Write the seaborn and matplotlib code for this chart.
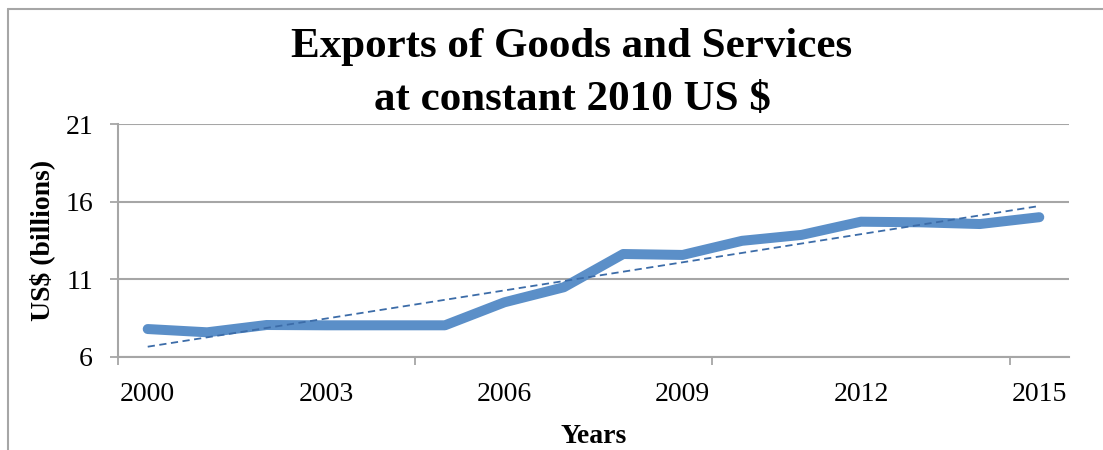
import numpy as np
import pandas as pd
import matplotlib
matplotlib.use("Agg")
import matplotlib.pyplot as plt
from matplotlib.lines import Line2D
import seaborn as sns

years = list(range(2000, 2016))
exports = [7.80, 7.59, 8.06, 8.04, 8.04, 8.04, 9.52, 10.49, 12.63, 12.57, 13.48, 13.86, 14.71, 14.67, 14.56, 15.00]
y_ticks = [6, 11, 16, 21]
x_tick_labels = ["2000", "2003", "2006", "2009", "2012", "2015"]
title_lines = ["Exports of Goods and Services", "at constant 2010 US $"]

sns.set_theme(style="white")
plt.rcParams["font.family"] = ["Liberation Serif", "DejaVu Serif"]
plt.rcParams["text.color"] = "black"
plt.rcParams["axes.labelcolor"] = "black"
plt.rcParams["xtick.color"] = "black"
plt.rcParams["ytick.color"] = "black"

df = pd.DataFrame({"idx": np.arange(len(years)), "year": years, "value": exports})
coef = np.polyfit(df["idx"], df["value"], 1)
df["trend"] = np.polyval(coef, df["idx"])

fig = plt.figure(figsize=(11.03, 4.5), dpi=100)
ax = fig.add_axes([118/1103, 1 - 357/450, (1069 - 118)/1103, (357 - 124)/450])

grid_c = "#A6A6A6"
sns.lineplot(data=df, x="idx", y="value", ax=ax, color="#5B8FC8", linewidth=7.2,
             solid_capstyle="round", solid_joinstyle="round", zorder=3)
sns.lineplot(data=df, x="idx", y="trend", ax=ax, color="#3C6CA8", linewidth=1.3,
             linestyle=(0, (4, 2.5)), zorder=4)

ax.set_xlim(-0.5, len(years) - 0.5)
ax.set_ylim(6, 21)
ax.set_yticks(y_ticks)
ax.set_yticklabels([str(t) for t in y_ticks], fontsize=20)
pos = [years.index(int(l)) for l in x_tick_labels]
ax.set_xticks(pos)
ax.set_xticklabels(x_tick_labels, fontsize=20)
ax.tick_params(axis="x", which="major", length=0, pad=18, labelcolor="black")
ax.set_xticks([-0.5, 4.5, 9.5, 14.5], minor=True)
ax.tick_params(axis="x", which="minor", length=6, width=1.3, color=grid_c, direction="out")
ax.tick_params(axis="y", which="major", length=6, width=1.3, color=grid_c, direction="out",
               pad=12, labelcolor="black")
ax.xaxis.set_ticks_position("bottom")
ax.yaxis.set_ticks_position("left")

ax.grid(axis="y", color=grid_c, linewidth=1.5)
ax.grid(axis="x", visible=False)
for s in ["top", "right"]:
    ax.spines[s].set_visible(False)
for s in ["left", "bottom"]:
    ax.spines[s].set_color(grid_c)
    ax.spines[s].set_linewidth(1.5)

ax.set_xlabel("Years", fontsize=20, fontweight="bold", labelpad=12)
ax.set_ylabel("US$ (billions)", fontsize=20, fontweight="bold", labelpad=7)

fig.text(572/1103, 1 - 57/450, title_lines[0], ha="center", va="baseline",
         fontsize=31, fontweight="bold")
fig.text(572/1103, 1 - 110/450, title_lines[1], ha="center", va="baseline",
         fontsize=31, fontweight="bold")

# outer chart frame (partially visible)
fig.add_artist(Line2D([8/1103, 8/1103], [0, 1 - 9/450], transform=fig.transFigure, color=grid_c, lw=1.5))
fig.add_artist(Line2D([8/1103, 1], [1 - 9/450, 1 - 9/450], transform=fig.transFigure, color=grid_c, lw=1.5))

fig.savefig("out.png", dpi=100)
